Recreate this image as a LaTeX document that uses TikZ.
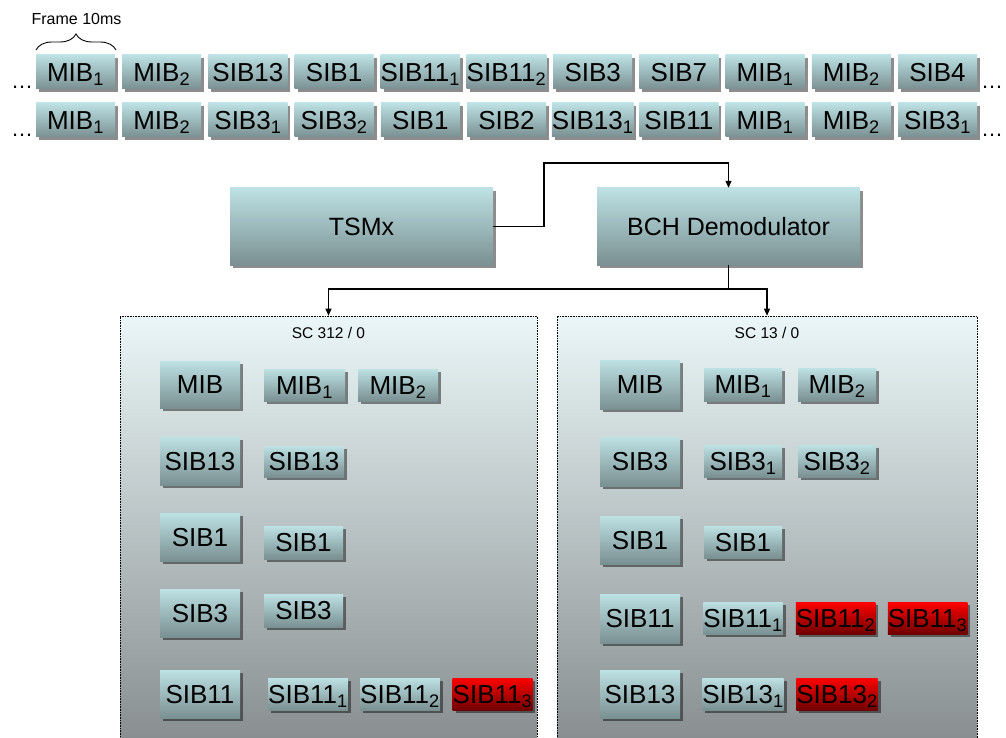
\documentclass[tikz,border=0pt]{standalone}
\usepackage{fontspec}
\setmainfont{Liberation Sans}
\usetikzlibrary{arrows.meta,shadows,decorations.pathreplacing}

\definecolor{blktop}{HTML}{BDE1E4}
\definecolor{blkbot}{HTML}{7A9092}
\definecolor{redtop}{HTML}{FF0000}
\definecolor{redbot}{HTML}{700000}
\definecolor{pantop}{HTML}{EAF6F7}
\definecolor{panmid}{HTML}{D0D9DA}
\definecolor{panbot}{HTML}{868C8E}

\newcommand\sbs[1]{\textsubscript{#1}}
% block with its corners given in pixel units (x1,y1) (x2,y2), y growing downwards
\newcommand\blk[7]{%
  \pgfmathsetmacro\bw{#5-#3}\pgfmathsetmacro\bh{#6-#4}%
  \pgfmathsetmacro\bx{(#3+#5)/2}\pgfmathsetmacro\by{-(#4+#6)/2}%
  \node[#1, minimum width=\bw pt, minimum height=\bh pt] (#2) at (\bx,\by) {#7};}

\tikzset{
  blk/.style={inner sep=0pt, top color=blktop, bottom color=blkbot, draw=none,
    drop shadow={shadow xshift=3pt, shadow yshift=-3pt, fill=black, opacity=0.45},
    font=\fontsize{26}{26}\selectfont, text height=18.6pt, text depth=0pt},
  redblk/.style={blk, top color=redtop, bottom color=redbot},
  bigblk/.style={blk, font=\fontsize{25}{25}\selectfont, text height=17.9pt},
  panel/.style={inner sep=0pt, draw=black, densely dotted, line width=0.6pt,
    top color=pantop, middle color=panmid, bottom color=panbot},
  link/.style={line width=1.2pt, draw=black},
  arr/.style={link, -{Triangle[length=7pt,width=6pt]}},
  lbl/.style={inner sep=0pt, font=\fontsize{15.5}{16}\selectfont},
  dots/.style={inner sep=0pt, anchor=base, font=\fontsize{22}{22}\selectfont},
}

\begin{document}
\begin{tikzpicture}[x=1pt,y=1pt]
\useasboundingbox (0,0) rectangle (1006,-738);

% ---- decoded cells (background) ----
\blk{panel}{p1}{120}{316}{537}{750}{}
\blk{panel}{p2}{557}{316}{977}{750}{}
\node[lbl] (sc1) at (328.5,-333) {SC 312 / 0};
\node[lbl] (sc2) at (767,-333) {SC 13 / 0};

% ---- broadcast channel, two frame sequences ----
\foreach \t [count=\i from 0] in {{MIB\sbs1},{MIB\sbs2},{SIB13},{SIB1},{SIB11\sbs1},{SIB11\sbs2},{SIB3},{SIB7},{MIB\sbs1},{MIB\sbs2},{SIB4}}{
  \pgfmathsetmacro\xa{36+86.2*\i}\pgfmathsetmacro\xb{\xa+79}
  \blk{blk}{ra\i}{\xa}{55}{\xb}{89}{\t}
}
\foreach \t [count=\i from 0] in {{MIB\sbs1},{MIB\sbs2},{SIB3\sbs1},{SIB3\sbs2},{SIB1},{SIB2},{SIB13\sbs1},{SIB11},{MIB\sbs1},{MIB\sbs2},{SIB3\sbs1}}{
  \pgfmathsetmacro\xa{36+86.2*\i}\pgfmathsetmacro\xb{\xa+79}
  \blk{blk}{rb\i}{\xa}{103}{\xb}{137}{\t}
}
\node[dots] (da1) at (22,-89) {…};
\node[dots] (da2) at (22,-137) {…};
\node[dots] (db1) at (992,-89) {…};
\node[dots] (db2) at (992,-137) {…};

% frame length brace
\coordinate (brL) at (36,-50);
\coordinate (brR) at (116,-50);
\draw[line width=0.9pt, decorate, decoration={brace, amplitude=16pt}] (brL) -- (brR);
\node[lbl, font=\fontsize{16}{16}\selectfont] (frame) at (76.5,-19) {Frame 10ms};

% ---- processing chain ----
\blk{bigblk}{tsmx}{230}{188}{493}{265}{TSMx}
\blk{bigblk}{bch}{597}{188}{860}{265}{BCH Demodulator}

% cell SC 312 / 0
\blk{blk}{la}{160}{361}{240}{408}{MIB}
\blk{blk}{la1}{264}{369}{345}{401}{MIB\sbs1}
\blk{blk}{la2}{358}{369}{438}{401}{MIB\sbs2}
\blk{blk}{lb}{160}{437}{240}{485}{SIB13}
\blk{blk}{lb1}{264}{446}{344}{477}{SIB13}
\blk{blk}{lc}{160}{513}{240}{561}{SIB1}
\blk{blk}{lc1}{264}{526}{343}{559}{SIB1}
\blk{blk}{ld}{160}{589}{240}{637}{SIB3}
\blk{blk}{ld1}{264}{594}{343}{627}{SIB3}
\blk{blk}{le}{160}{670}{240}{718}{SIB11}
\blk{blk}{le1}{269}{678}{347}{710}{SIB11\sbs1}
\blk{blk}{le2}{361}{678}{439}{710}{SIB11\sbs2}
\blk{redblk}{le3}{453}{678}{532}{710}{SIB11\sbs3}

% cell SC 13 / 0
\blk{blk}{ma}{600}{360}{680}{409}{MIB}
\blk{blk}{ma1}{704}{368}{782}{401}{MIB\sbs1}
\blk{blk}{ma2}{798}{368}{876}{401}{MIB\sbs2}
\blk{blk}{mb}{600}{437}{680}{486}{SIB3}
\blk{blk}{mb1}{704}{445}{782}{477}{SIB3\sbs1}
\blk{blk}{mb2}{798}{445}{876}{477}{SIB3\sbs2}
\blk{blk}{mc}{600}{516}{680}{564}{SIB1}
\blk{blk}{mc1}{704}{526}{782}{558}{SIB1}
\blk{blk}{md}{600}{594}{680}{643}{SIB11}
\blk{blk}{md1}{704}{602}{782}{634}{SIB11\sbs1}
\blk{redblk}{md2}{796}{602}{875}{634}{SIB11\sbs2}
\blk{redblk}{md3}{888}{602}{967}{634}{SIB11\sbs3}
\blk{blk}{me}{600}{670}{680}{718}{SIB13}
\blk{blk}{me1}{704}{678}{782}{710}{SIB13\sbs1}
\blk{redblk}{me2}{798}{678}{876}{710}{SIB13\sbs2}

% ---- connectors ----
\coordinate (jog) at (544,-163);
\draw[arr] (tsmx.east) -| (jog) -| (bch.north);
\coordinate (split) at (728.5,-289);
\draw[link] (bch.south) -- (split);
\draw[arr] (split) -| (p1.north);
\draw[arr] (split) -| (p2.north);
\end{tikzpicture}
\end{document}
